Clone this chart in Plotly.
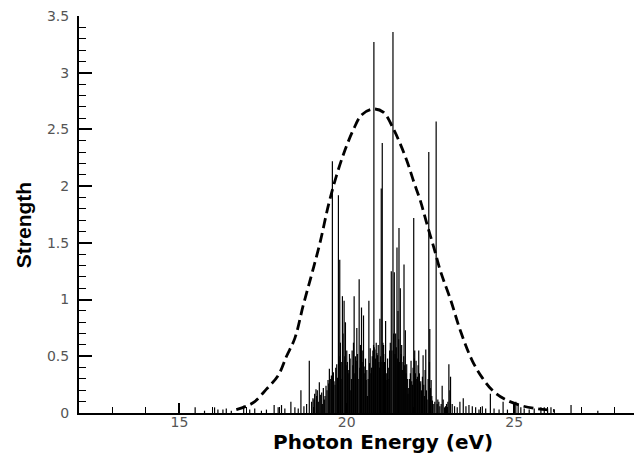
import plotly.graph_objects as go

# stick spectrum: line positions (eV) and strengths
line_energy = [
    15.47, 15.75, 16.05, 16.15, 16.30, 16.40, 16.55, 16.92, 17.10, 17.25,
    17.45, 17.60, 17.83, 17.95, 18.05, 18.15, 18.33, 18.45, 18.55, 18.63,
    18.72, 18.80, 18.88, 18.95, 18.99, 19.04, 19.08, 19.12, 19.18, 19.22,
    19.27, 19.33, 19.38, 19.44, 19.48, 19.52, 19.57, 19.60, 19.65, 19.70,
    19.75, 19.79, 19.83, 19.87, 19.92, 19.96, 20.00, 20.04, 20.08, 20.12,
    20.16, 20.22, 20.26, 20.30, 20.34, 20.37, 20.41, 20.44, 20.48, 20.50,
    20.54, 20.58, 20.62, 20.66, 20.70, 20.74, 20.78, 20.81, 20.84, 20.88,
    20.92, 20.96, 20.99, 21.03, 21.06, 21.10, 21.13, 21.16, 21.20, 21.24,
    21.28, 21.33, 21.38, 21.42, 21.46, 21.50, 21.53, 21.56, 21.60, 21.64,
    21.68, 21.71, 21.75, 21.79, 21.83, 21.87, 21.92, 21.96, 22.00, 22.03,
    22.07, 22.11, 22.15, 22.19, 22.23, 22.28, 22.32, 22.36, 22.40, 22.45,
    22.48, 22.52, 22.56, 22.60, 22.67, 22.72, 22.78, 22.85, 22.92, 22.98,
    23.05, 23.10, 23.15, 23.22, 23.30, 23.38, 23.48, 23.56, 23.65, 23.75,
    23.85, 23.95, 24.05, 24.15, 24.29, 24.40, 24.55, 24.67, 24.80, 25.05,
    25.12, 25.20, 25.30, 25.45, 25.60, 25.80, 25.90, 26.00, 26.10, 26.20,
    26.70, 27.50,
]
line_strength = [
    0.05, 0.02, 0.05, 0.03, 0.03, 0.04, 0.02, 0.065, 0.03, 0.04,
    0.02, 0.03, 0.07, 0.05, 0.07, 0.04, 0.10, 0.05, 0.04, 0.20,
    0.06, 0.08, 0.46, 0.10, 0.13, 0.17, 0.21, 0.20, 0.27, 0.16,
    0.08, 0.12, 0.24, 0.29, 0.39, 0.30, 2.22, 0.36, 0.25, 0.43,
    1.92, 1.35, 0.30, 1.03, 0.99, 0.80, 0.55, 0.35, 0.52, 0.20,
    0.55, 1.03, 0.50, 0.75, 0.30, 1.18, 0.60, 0.93, 0.45, 0.86,
    0.41, 0.29, 0.15, 0.99, 0.57, 0.40, 0.55, 3.27, 0.56, 0.62,
    0.51, 0.45, 0.83, 1.98, 2.38, 0.60, 0.45, 0.81, 0.29, 0.40,
    0.55, 1.25, 3.36, 1.24, 0.70, 1.46, 0.90, 1.63, 1.10, 0.60,
    0.45, 1.31, 0.73, 0.43, 0.17, 0.30, 0.46, 0.25, 1.72, 0.55,
    0.46, 0.32, 0.55, 0.26, 0.20, 0.51, 0.15, 0.56, 0.12, 2.30,
    0.74, 0.29, 0.11, 0.08, 2.57, 0.12, 0.06, 0.24, 0.05, 0.08,
    0.43, 0.32, 0.08, 0.06, 0.05, 0.10, 0.13, 0.06, 0.07, 0.06,
    0.05, 0.03, 0.06, 0.04, 0.17, 0.04, 0.03, 0.10, 0.03, 0.10,
    0.08, 0.05, 0.04, 0.03, 0.04, 0.05, 0.05, 0.04, 0.05, 0.03,
    0.07, 0.02,
]

# weaker lines that make up the dark band under the peak
weak_energy = [
    19.02, 19.10, 19.15, 19.25, 19.30, 19.35, 19.41, 19.46, 19.54, 19.62,
    19.67, 19.72, 19.77, 19.81, 19.85, 19.89, 19.94, 19.98, 20.02, 20.06,
    20.10, 20.14, 20.18, 20.20, 20.24, 20.28, 20.32, 20.39, 20.46, 20.52,
    20.56, 20.60, 20.64, 20.68, 20.72, 20.76, 20.80, 20.82, 20.86, 20.90,
    20.94, 20.98, 21.01, 21.05, 21.08, 21.12, 21.15, 21.18, 21.22, 21.26,
    21.30, 21.35, 21.40, 21.44, 21.48, 21.52, 21.55, 21.58, 21.62, 21.66,
    21.70, 21.73, 21.77, 21.81, 21.85, 21.90, 21.94, 21.98, 22.02, 22.05,
    22.09, 22.13, 22.17, 22.21, 22.26, 22.30, 22.34, 22.38, 22.43, 22.47,
    22.50, 22.54, 22.63, 22.70, 22.75, 22.82, 22.88, 22.95, 23.02, 23.08,
]
weak_strength = [
    0.12, 0.15, 0.10, 0.18, 0.22, 0.15, 0.20, 0.26, 0.33, 0.28,
    0.40, 0.31, 0.50, 0.62, 0.45, 0.70, 0.50, 0.42, 0.45, 0.38,
    0.48, 0.30, 0.42, 0.62, 0.35, 0.46, 0.52, 0.40, 0.55, 0.35,
    0.48, 0.38, 0.30, 0.44, 0.35, 0.50, 0.60, 0.58, 0.48, 0.53,
    0.60, 0.40, 0.50, 0.45, 0.62, 0.38, 0.52, 0.35, 0.48, 0.30,
    0.62, 0.55, 0.70, 0.52, 0.58, 0.48, 0.65, 0.45, 0.52, 0.38,
    0.50, 0.42, 0.35, 0.30, 0.22, 0.35, 0.28, 0.40, 0.48, 0.35,
    0.30, 0.42, 0.35, 0.28, 0.32, 0.25, 0.38, 0.20, 0.30, 0.45,
    0.22, 0.15, 0.10, 0.08, 0.10, 0.08, 0.12, 0.06, 0.10, 0.20,
]

# broadened envelope (dashed)
env_energy = [16.7, 17.0, 17.25, 17.6, 17.95, 18.2, 18.45, 18.7, 18.95, 19.2,
              19.45, 19.7, 19.95, 20.2, 20.45, 20.8, 21.1, 21.4, 21.6, 21.8,
              22.0, 22.2, 22.4, 22.6, 22.8, 23.1, 23.4, 23.75, 24.05, 24.35,
              24.7, 25.2, 25.7, 26.2]
env_strength = [0.03, 0.06, 0.10, 0.21, 0.33, 0.50, 0.66, 0.95, 1.22, 1.50,
                1.83, 2.10, 2.32, 2.50, 2.63, 2.68, 2.65, 2.50, 2.37, 2.22,
                2.04, 1.87, 1.66, 1.46, 1.25, 1.00, 0.72, 0.46, 0.31, 0.20,
                0.125, 0.066, 0.037, 0.022]

# sticks as one trace: each line goes 0 -> strength, separated by None
stick_x, stick_y = [], []
for e, s in zip(line_energy + weak_energy, line_strength + weak_strength):
    stick_x += [e, e, None]
    stick_y += [0, s, None]

fig = go.Figure()
fig.add_trace(go.Scatter(x=stick_x, y=stick_y, mode='lines',
                         line=dict(color='black', width=1.2), hoverinfo='skip'))
fig.add_trace(go.Scatter(x=env_energy, y=env_strength, mode='lines',
                         line=dict(color='black', width=2.8, dash='10px,5px', shape='spline')))

fnt = 'DejaVu Sans, Arial, sans-serif'
# page has an 8px body margin, so the figure is sized to end at the window edge
fig.update_layout(
    width=634, height=447,
    margin=dict(l=71, r=0, t=6, b=42),
    plot_bgcolor='white', paper_bgcolor='white',
    showlegend=False,
    font=dict(family=fnt, size=14, color='#555555'),
    xaxis=dict(range=[12, 28.82], showline=True, linecolor='black', linewidth=2,
               showgrid=False, zeroline=False, ticks='inside', ticklen=10, tickwidth=2,
               tickcolor='black', dtick=5, tick0=0, ticklabelstandoff=-5,
               minor=dict(dtick=1, ticks='inside', ticklen=6, tickwidth=1, tickcolor='black')),
    yaxis=dict(range=[0, 3.5], showline=True, linecolor='black', linewidth=2,
               showgrid=False, zeroline=False, ticks='inside', ticklen=13, tickwidth=2,
               tickcolor='black', dtick=0.5, tick0=0, ticklabelstandoff=5,
               ticklabeloverflow='allow',
               minor=dict(dtick=0.1, ticks='inside', ticklen=7, tickwidth=1, tickcolor='black')),
    annotations=[
        dict(text='<b>Photon Energy (eV)</b>', xref='x', x=21.07, yref='paper', y=0,
             yshift=-29, yanchor='middle', showarrow=False,
             font=dict(family=fnt, size=20, color='black')),
        dict(text='<b>Strength</b>', xref='paper', x=0, xshift=-56, yref='paper', y=0.473,
             textangle=-90, xanchor='center', yanchor='middle', showarrow=False,
             font=dict(family='Liberation Sans Narrow, Arial Narrow, sans-serif', size=21, color='black')),
    ],
)

fig.write_html("out.html")
